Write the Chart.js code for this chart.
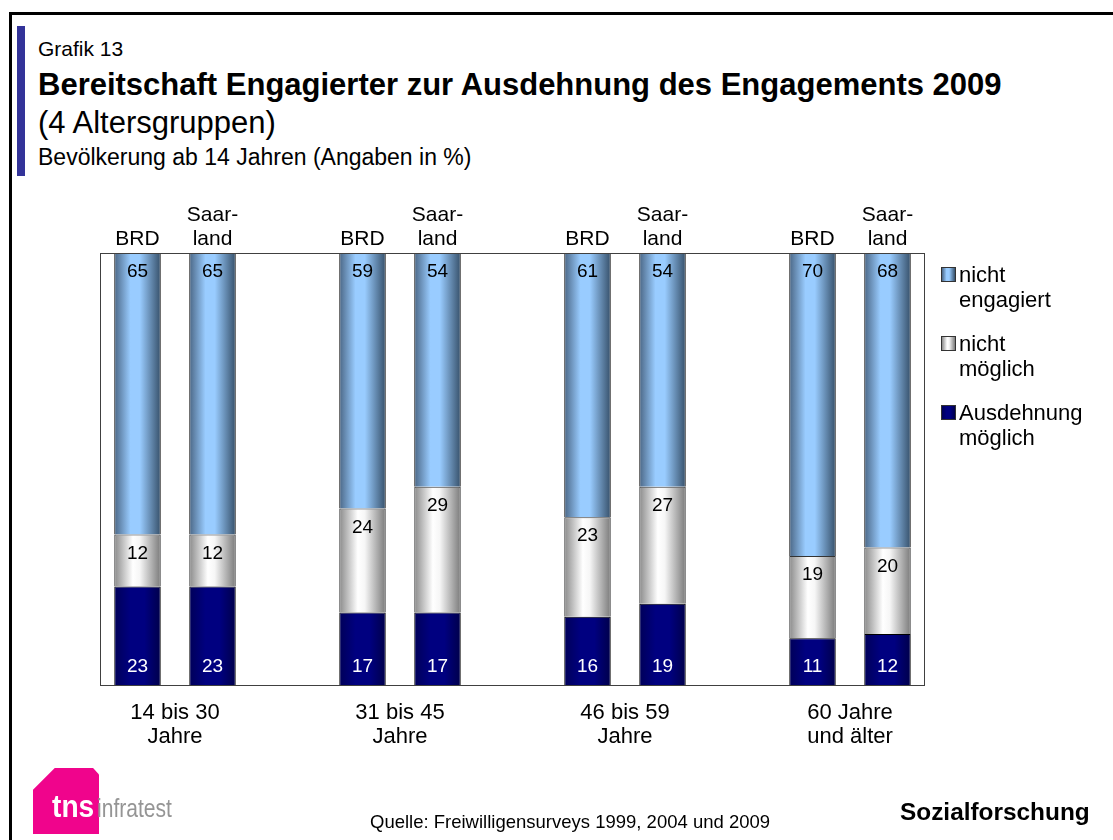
<!DOCTYPE html>
<html>
<head>
<meta charset="utf-8">
<script src="https://cdn.jsdelivr.net/npm/chart.js@4"></script>
<style>
  body { margin: 0; width: 1113px; height: 840px; position: relative; overflow: hidden; background: #fff;
         font-family: "Liberation Sans", Arial, sans-serif; color: #000; }
  .abs { position: absolute; white-space: nowrap; line-height: 1; }
  #frame { position: absolute; left: 9px; top: 12px; width: 1200px; height: 900px;
           border-left: 3px solid #000; border-top: 3px solid #000; }
  #accent { position: absolute; left: 17px; top: 26px; width: 8px; height: 150px; background: #333399; }
  #chart { position: absolute; left: 0; top: 0; }
  .leg { position: absolute; left: 941px; font-size: 22px; line-height: 25px; }
  .leg .sq { position: absolute; left: 0; top: 5px; width: 13px; height: 13px; border: 1px solid #333; }
  .leg .tx { position: absolute; left: 18px; top: 0; white-space: nowrap; }
  #logo { position: absolute; left: 33px; top: 768px; width: 66px; height: 66px; background: #f0048c;
          clip-path: polygon(33% 0, 91% 0, 100% 10%, 100% 100%, 0 100%, 0 33%); }
  .squeeze { transform-origin: 0 0; }
</style>
</head>
<body>
<div id="frame"></div>
<div id="accent"></div>
<div class="abs" style="left:38px; top:38px; font-size:21px;">Grafik 13</div>
<div class="abs" style="left:38px; top:69px; font-size:31px; font-weight:bold;">Bereitschaft Engagierter zur Ausdehnung des Engagements 2009</div>
<div class="abs" style="left:38px; top:107px; font-size:31px;">(4 Altersgruppen)</div>
<div class="abs" style="left:38px; top:146px; font-size:23px;">Bevölkerung ab 14 Jahren (Angaben in %)</div>

<canvas id="chart" width="1113" height="840"></canvas>

<div id="legend"></div>

<div id="logo"></div>
<div class="abs squeeze" style="left:52px; top:790px; font-size:32px; font-weight:bold; color:#fff; transform:scaleX(0.88);">tns</div>
<div class="abs squeeze" style="left:97px; top:795px; font-size:26px; color:#959595; transform:scaleX(0.81);">infratest</div>
<div class="abs" style="left:370px; top:813px; font-size:18.5px;">Quelle: Freiwilligensurveys 1999, 2004 und 2009</div>
<div class="abs" style="left:900px; top:800px; font-size:24.4px; font-weight:bold;">Sozialforschung</div>

<script>
// age groups and regions
const groups = [['14 bis 30', 'Jahre'], ['31 bis 45', 'Jahre'], ['46 bis 59', 'Jahre'], ['60 Jahre', 'und älter']];
const regions = ['BRD', ['Saar-', 'land']];

// values per bar: BRD, Saarland for each group (in %)
const ausdehnungMoeglich = [23, 23, 17, 17, 16, 19, 11, 12];
const nichtMoeglich      = [12, 12, 24, 29, 23, 27, 19, 20];
const nichtEngagiert     = [65, 65, 59, 54, 61, 54, 70, 68];

const seriesNames = ['Ausdehnung möglich', 'nicht möglich', 'nicht engagiert'];
const legendNames = [['nicht', 'engagiert'], ['nicht', 'möglich'], ['Ausdehnung', 'möglich']];

// gradient stops (left edge -> right edge of a bar)
const navyStops = [[0, '#000058'], [0.35, '#000080'], [0.65, '#000080'], [1, '#00004a']];
const grayStops = [[0, '#8a8a8a'], [0.4, '#ffffff'], [0.55, '#f6f6f6'], [1, '#7a7a7a']];
const blueStops = [[0, '#4a6685'], [0.35, '#99ccff'], [0.55, '#99ccff'], [1, '#36506a']];

const BAR_PCT = 0.62;

// spread the 8 bars over 11 slots, leaving a gap after each pair
const bottomLabels = [];
const topLabels = [];
function spread(values) {
    const out = [];
    groups.forEach((g, gi) => {
        regions.forEach((r, ri) => {
            out.push(values[gi * 2 + ri]);
        });
        if (gi < groups.length - 1) out.push(null);
    });
    return out;
}
groups.forEach((g, gi) => {
    regions.forEach((r, ri) => {
        bottomLabels.push(ri === 0 ? g : '');
        topLabels.push(r);
    });
    if (gi < groups.length - 1) { bottomLabels.push(''); topLabels.push(''); }
});

function barFill(stops) {
    return function(c) {
        const chart = c.chart;
        const area = chart.chartArea;
        const xs = chart.scales.x;
        if (!area || !xs || c.type !== 'data') return stops[1][1];
        const slot = xs.getPixelForValue(1) - xs.getPixelForValue(0);
        const cx = xs.getPixelForValue(c.dataIndex);
        const w = slot * BAR_PCT;
        const g = chart.ctx.createLinearGradient(cx - w / 2, 0, cx + w / 2, 0);
        stops.forEach(s => g.addColorStop(s[0], s[1]));
        return g;
    };
}

// numbers inside the segments
const valueLabels = {
    id: 'valueLabels',
    afterDatasetsDraw(chart) {
        const ctx = chart.ctx;
        ctx.save();
        ctx.font = '19px "Liberation Sans", Arial, sans-serif';
        ctx.textAlign = 'center';
        ctx.textBaseline = 'middle';
        chart.data.datasets.forEach((ds, i) => {
            chart.getDatasetMeta(i).data.forEach((bar, j) => {
                const v = ds.data[j];
                if (v == null) return;
                const top = Math.min(bar.y, bar.base);
                const bottom = Math.max(bar.y, bar.base);
                ctx.fillStyle = i === 0 ? '#ffffff' : '#000000';
                ctx.fillText(String(v), bar.x, i === 0 ? bottom - 19 : top + 19);
            });
        });
        ctx.restore();
    }
};

// plot area frame
const plotFrame = {
    id: 'plotFrame',
    afterDatasetsDraw(chart) {
        const a = chart.chartArea;
        const ctx = chart.ctx;
        ctx.save();
        ctx.strokeStyle = '#404040';
        ctx.lineWidth = 1;
        ctx.strokeRect(a.left + 0.5, a.top + 0.5, a.width - 1, a.height - 1);
        ctx.restore();
    }
};

new Chart(document.getElementById('chart'), {
    type: 'bar',
    data: {
        labels: bottomLabels,
        datasets: [
            { label: seriesNames[0], data: spread(ausdehnungMoeglich), backgroundColor: barFill(navyStops), borderColor: '#000000', borderWidth: 1 },
            { label: seriesNames[1], data: spread(nichtMoeglich), backgroundColor: barFill(grayStops), borderColor: '#333333', borderWidth: 1 },
            { label: seriesNames[2], data: spread(nichtEngagiert), backgroundColor: barFill(blueStops), borderColor: '#000000', borderWidth: 1 }
        ]
    },
    options: {
        responsive: false,
        animation: false,
        devicePixelRatio: 1,
        layout: { padding: { left: 100, right: 188, top: 193, bottom: 84 } },
        datasets: { bar: { categoryPercentage: 1, barPercentage: BAR_PCT } },
        plugins: { legend: { display: false }, tooltip: { enabled: false } },
        scales: {
            x: {
                stacked: true,
                grid: { display: false, drawTicks: false },
                border: { display: false },
                ticks: {
                    autoSkip: false, maxRotation: 0, color: '#000', padding: 15,
                    labelOffset: 37.5,
                    font: { family: '"Liberation Sans", Arial, sans-serif', size: 22, lineHeight: '24px' }
                },
                afterFit(s) { s.height = 70; }
            },
            x2: {
                type: 'category',
                position: 'top',
                labels: topLabels,
                offset: true,
                grid: { display: false, drawTicks: false },
                border: { display: false },
                ticks: {
                    autoSkip: false, maxRotation: 0, color: '#000', padding: 2,
                    font: { family: '"Liberation Sans", Arial, sans-serif', size: 21, lineHeight: '24px' }
                },
                afterFit(s) { s.height = 60; }
            },
            y: { stacked: true, min: 0, max: 100, display: false }
        }
    },
    plugins: [valueLabels, plotFrame]
});

// legend on the right, top entry first
const legendStops = [navyStops, grayStops, blueStops];
const legendTops = [262, 331, 400];
const legend = document.getElementById('legend');
[2, 1, 0].forEach((si, k) => {
    const item = document.createElement('div');
    item.className = 'leg';
    item.style.top = legendTops[k] + 'px';
    const sq = document.createElement('div');
    sq.className = 'sq';
    sq.style.background = 'linear-gradient(to right, ' +
        legendStops[si].map(s => s[1] + ' ' + (s[0] * 100) + '%').join(', ') + ')';
    const tx = document.createElement('div');
    tx.className = 'tx';
    tx.innerHTML = legendNames[k].join('<br>');
    item.appendChild(sq);
    item.appendChild(tx);
    legend.appendChild(item);
});
</script>
</body>
</html>
